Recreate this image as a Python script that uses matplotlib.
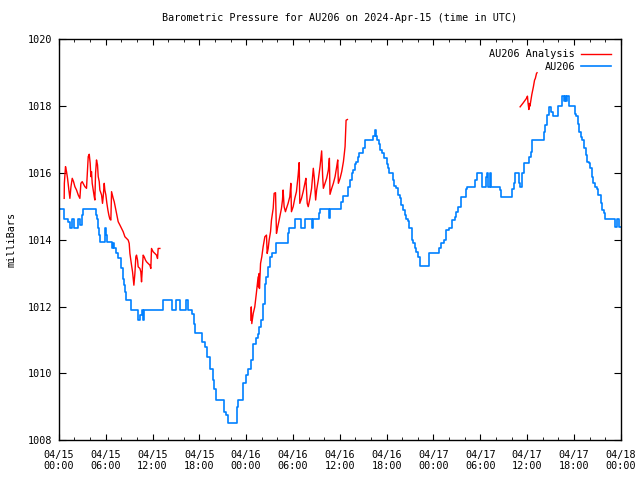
import numpy as np
import pandas as pd
import matplotlib
matplotlib.use("Agg")
import matplotlib.pyplot as plt
import matplotlib.dates as mdates

START = pd.Timestamp("2024-04-15 00:00")

# AU206 station pressure: (hours since 04/15 00:00, mb) at each step change
obs_hours = [
    0.0, 0.68, 1.2, 1.4, 1.7, 1.9, 2.5, 2.7, 2.9, 3.1, 4.7, 4.85, 4.95, 5.05,
    5.15, 5.3, 5.9, 6.05, 6.2, 6.75, 6.8, 6.95, 7.1, 7.3, 7.6, 8.0, 8.25, 8.3,
    8.5, 8.6, 9.3, 10.2, 10.45, 10.6, 10.75, 10.95, 13.4, 14.5, 15.0, 15.5,
    16.3, 16.6, 17.1, 17.3, 17.5, 18.4, 18.7, 19.0, 19.4, 19.7, 19.9, 20.1,
    21.1, 21.4, 21.7, 22.85, 23.0, 23.6, 23.95, 24.25, 24.6, 24.9, 25.2, 25.5,
    25.7, 25.85, 26.1, 26.2, 26.4, 26.6, 26.8, 27.0, 27.25, 27.8, 29.4, 29.5,
    30.2, 31.0, 31.5, 32.4, 32.6, 33.3, 33.4, 34.55, 34.7, 36.2, 36.4, 37.1,
    37.3, 37.5, 37.7, 37.9, 38.1, 38.35, 38.5, 39.0, 39.2, 40.3, 40.45, 40.6,
    40.8, 41.0, 41.15, 41.4, 41.7, 42.0, 42.2, 42.3, 42.8, 43.0, 43.2, 43.5,
    43.7, 43.9, 44.1, 44.3, 44.5, 44.7, 44.9, 45.2, 45.4, 45.6, 45.8, 46.0,
    46.25, 47.45, 48.7, 48.9, 49.3, 49.6, 50.0, 50.4, 50.7, 50.9, 51.2, 51.5,
    52.15, 52.3, 53.3, 53.55, 54.2, 54.7, 54.8, 54.95, 55.2, 55.4, 56.5, 56.7,
    58.1, 58.3, 58.5, 58.9, 59.1, 59.3, 59.6, 60.3, 60.5, 60.6, 62.1, 62.3,
    62.5, 62.6, 62.75, 63.1, 63.3, 63.9, 64.0, 64.5, 64.7, 64.8, 64.95, 65.05,
    65.4, 66.1, 66.3, 66.5, 66.7, 66.85, 67.05, 67.25, 67.5, 67.7, 67.9, 68.1,
    68.3, 68.5, 68.7, 68.9, 69.1, 69.4, 69.6, 69.8, 70.0, 71.2, 71.5, 71.8,
    72.0,
]
obs_mb = [
    1014.91, 1014.62, 1014.52, 1014.34, 1014.62, 1014.34, 1014.62, 1014.44,
    1014.74, 1014.91, 1014.74, 1014.62, 1014.52, 1014.34, 1014.14, 1013.94,
    1014.34, 1014.14, 1013.94, 1013.89, 1013.74, 1013.89, 1013.74, 1013.59,
    1013.44, 1013.14, 1012.84, 1012.64, 1012.44, 1012.19, 1011.89, 1011.59,
    1011.74, 1011.89, 1011.59, 1011.89, 1012.19, 1011.89, 1012.19, 1011.89,
    1012.19, 1011.89, 1011.79, 1011.49, 1011.22, 1010.94, 1010.79, 1010.49,
    1010.14, 1009.80, 1009.54, 1009.20, 1008.85, 1008.75, 1008.50, 1009.00,
    1009.20, 1009.70, 1009.95, 1010.14, 1010.40, 1010.89, 1011.05, 1011.19,
    1011.39, 1011.59, 1011.79, 1012.09, 1012.69, 1012.89, 1013.19, 1013.49,
    1013.59, 1013.89, 1014.19, 1014.34, 1014.61, 1014.34, 1014.61, 1014.34,
    1014.61, 1014.79, 1014.91, 1014.64, 1014.91, 1015.14, 1015.31, 1015.59,
    1015.79, 1015.99, 1016.09, 1016.26, 1016.34, 1016.49, 1016.59, 1016.74,
    1016.99, 1017.11, 1017.29, 1017.11, 1016.99, 1016.86, 1016.69, 1016.59,
    1016.44, 1016.26, 1016.14, 1015.99, 1015.79, 1015.62, 1015.56, 1015.34,
    1015.26, 1015.04, 1014.89, 1014.74, 1014.61, 1014.56, 1014.34, 1013.99,
    1013.89, 1013.74, 1013.64, 1013.49, 1013.21, 1013.59, 1013.74, 1013.89,
    1013.99, 1014.29, 1014.34, 1014.59, 1014.69, 1014.84, 1014.99, 1015.29,
    1015.51, 1015.59, 1015.79, 1015.99, 1015.59, 1015.87, 1015.99, 1015.59,
    1015.99, 1015.59, 1015.49, 1015.29, 1015.51, 1015.69, 1015.99, 1015.69,
    1015.59, 1015.99, 1016.29, 1016.49, 1016.64, 1016.99, 1017.24, 1017.43,
    1017.58, 1017.73, 1017.98, 1017.83, 1017.70, 1017.86, 1018.00, 1018.30,
    1018.15, 1018.30, 1018.15, 1018.30, 1018.00, 1017.78, 1017.70, 1017.48,
    1017.24, 1017.08, 1016.99, 1016.74, 1016.54, 1016.34, 1016.29, 1016.14,
    1015.89, 1015.69, 1015.59, 1015.51, 1015.34, 1015.09, 1014.89, 1014.79,
    1014.61, 1014.39, 1014.61, 1014.39, 1014.39,
]

# analysis pressure, three separate runs (hours, mb)
ana1_hours = [
    0.68, 0.70, 0.85, 0.98, 1.11, 1.28, 1.41, 1.55, 1.71, 1.88, 2.05, 2.26,
    2.48, 2.69, 2.82, 2.99, 3.33, 3.54, 3.76, 3.89, 4.01, 4.1, 4.18, 4.27,
    4.4, 4.53, 4.61, 4.7, 4.82, 4.95, 5.04, 5.17, 5.25, 5.47, 5.59, 5.68,
    5.81, 5.89, 6.02, 6.15, 6.28, 6.4, 6.53, 6.66, 6.75, 6.96, 7.09, 7.26,
    7.43, 7.6, 7.82, 8.03, 8.24, 8.46, 8.67, 8.88, 9.01, 9.1, 9.31, 9.44,
    9.61, 9.74, 9.86, 9.95, 10.08, 10.16, 10.38, 10.5, 10.59, 10.68, 10.8,
    10.93, 11.1, 11.23, 11.44, 11.66, 11.78, 11.87, 12.08, 12.3, 12.51,
    12.64, 12.72, 12.94,
]
ana1_mb = [
    1015.24, 1015.69, 1016.19, 1016.04, 1015.84, 1015.49, 1015.24, 1015.59,
    1015.84, 1015.74, 1015.59, 1015.49, 1015.34, 1015.24, 1015.69, 1015.74,
    1015.59, 1015.54, 1016.49, 1016.56, 1016.29, 1015.89, 1016.04, 1015.69,
    1015.49, 1015.29, 1015.19, 1015.99, 1016.39, 1016.24, 1015.89, 1015.74,
    1015.49, 1015.34, 1015.09, 1015.29, 1015.69, 1015.49, 1015.34, 1015.09,
    1014.89, 1014.74, 1014.62, 1014.59, 1015.44, 1015.24, 1015.14, 1014.94,
    1014.74, 1014.54, 1014.44, 1014.34, 1014.24, 1014.09, 1014.04, 1013.99,
    1013.89, 1013.59, 1013.24, 1013.04, 1012.64, 1012.99, 1013.49, 1013.54,
    1013.39, 1013.19, 1013.14, 1013.04, 1012.74, 1013.09, 1013.54, 1013.49,
    1013.39, 1013.34, 1013.29, 1013.24, 1013.14, 1013.74, 1013.64, 1013.59,
    1013.54, 1013.44, 1013.74, 1013.74,
]
ana2_hours = [
    24.6, 24.65, 24.72, 24.9, 25.1, 25.3, 25.53, 25.58, 25.66, 25.7, 25.84,
    26.0, 26.17, 26.39, 26.6, 26.69, 26.82, 26.94, 27.12, 27.24, 27.46,
    27.58, 27.76, 27.88, 28.0, 28.18, 28.35, 28.52, 28.65, 28.73, 28.86,
    29.03, 29.16, 29.37, 29.59, 29.72, 29.8, 30.02, 30.23, 30.44, 30.66,
    30.79, 30.87, 31.09, 31.3, 31.52, 31.65, 31.82, 31.95, 32.17, 32.38,
    32.6, 32.73, 32.9, 33.03, 33.24, 33.46, 33.67, 33.8, 33.89, 34.1, 34.31,
    34.53, 34.66, 34.74, 34.96, 35.17, 35.39, 35.6, 35.73, 35.81, 36.03,
    36.24, 36.46, 36.58, 36.67, 36.8, 36.97,
]
ana2_mb = [
    1011.59, 1011.99, 1011.49, 1011.79, 1011.99, 1012.39, 1012.89, 1012.59,
    1012.99, 1012.54, 1013.29, 1013.49, 1013.79, 1014.09, 1014.14, 1013.59,
    1013.74, 1013.99, 1014.24, 1014.59, 1014.94, 1015.39, 1015.41, 1014.19,
    1014.34, 1014.54, 1014.74, 1014.94, 1015.19, 1015.49, 1014.99, 1014.84,
    1014.94, 1015.09, 1015.29, 1015.69, 1014.84, 1014.99, 1015.24, 1015.44,
    1015.94, 1016.31, 1015.09, 1015.24, 1015.44, 1015.69, 1015.84, 1015.09,
    1014.99, 1015.24, 1015.54, 1016.14, 1015.84, 1015.19, 1015.49, 1015.79,
    1016.19, 1016.66, 1015.89, 1015.54, 1015.69, 1015.84, 1016.09, 1016.44,
    1015.36, 1015.54, 1015.69, 1015.89, 1016.19, 1016.39, 1015.69, 1015.84,
    1016.04, 1016.34, 1016.59, 1016.79, 1017.58, 1017.60,
]
ana3_hours = [59.1, 59.5, 59.9, 60.04, 60.1, 60.22, 60.3, 60.36, 60.6, 60.8,
              60.95, 61.05, 61.2, 61.27]
ana3_mb = [1017.98, 1018.10, 1018.23, 1018.30, 1018.13, 1017.90, 1018.08,
           1018.00, 1018.35, 1018.58, 1018.78, 1018.83, 1018.98, 1019.00]


def to_time(hours):
    return START + pd.to_timedelta(hours, unit="h")


FS = 7.3
plt.rcParams["font.family"] = ["DejaVu Sans Mono"]
plt.rcParams["font.size"] = FS

fig = plt.figure(figsize=(6.4, 4.8), dpi=100)
ax = fig.add_axes([0.092, 0.083, 0.878, 0.835])

red = "#ff0000"
blue = "#0080ff"
ax.plot(to_time(ana1_hours), ana1_mb, color=red, lw=1.0, label="AU206 Analysis")
ax.plot(to_time(ana2_hours), ana2_mb, color=red, lw=1.0)
ax.plot(to_time(ana3_hours), ana3_mb, color=red, lw=1.0)
ax.plot(to_time(obs_hours), obs_mb, color=blue, lw=1.2, drawstyle="steps-post",
        label="AU206")

ax.set_xlim(to_time(0), to_time(72))
ax.set_ylim(1008, 1020)
ax.set_yticks(np.arange(1008, 1021, 2))
ax.xaxis.set_major_locator(mdates.HourLocator(byhour=range(0, 24, 6)))
ax.xaxis.set_minor_locator(mdates.HourLocator(byhour=range(0, 24, 2)))
ax.xaxis.set_major_formatter(mdates.DateFormatter("%m/%d\n%H:%M"))

ax.tick_params(which="both", direction="in", top=True, right=True, colors="black",
               labelsize=FS)
ax.tick_params(axis="x", which="major", length=4, pad=7)
ax.tick_params(axis="x", which="minor", length=2)
ax.tick_params(axis="y", which="major", length=5, pad=5)
for s in ax.spines.values():
    s.set_linewidth(1.0)

ax.set_title("Barometric Pressure for AU206 on 2024-Apr-15 (time in UTC)",
             fontsize=FS, pad=13)
ax.set_ylabel("milliBars", fontsize=FS, labelpad=8)

ax.legend(loc="upper right", frameon=False, markerfirst=False, fontsize=FS,
          handlelength=2.9, handletextpad=0.6, labelspacing=0.25,
          borderaxespad=0.8, borderpad=0.2)

fig.savefig("out.png", dpi=100)
